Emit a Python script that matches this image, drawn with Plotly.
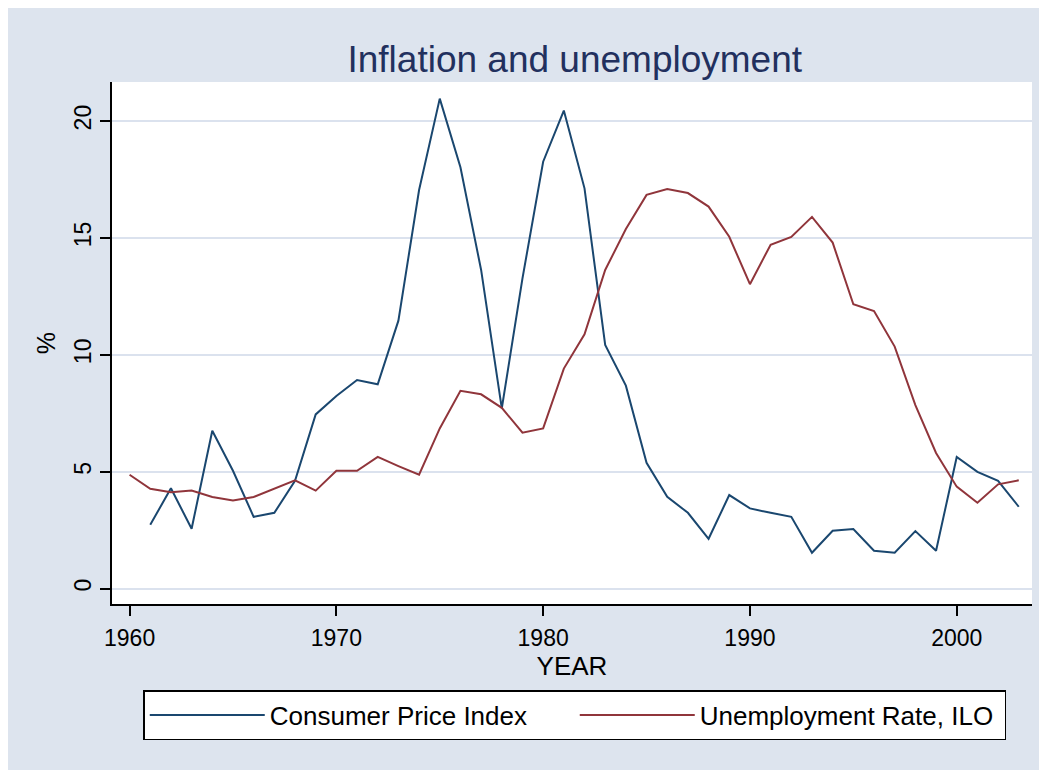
import plotly.graph_objects as go

years_cpi = list(range(1961, 2004))
cpi = [2.73, 4.29, 2.56, 6.75, 5.04, 3.07, 3.24, 4.61, 7.45, 8.24,
       8.92, 8.74, 11.46, 17.05, 20.96, 18.02, 13.63, 7.71, 13.27, 18.26,
       20.45, 17.12, 10.42, 8.68, 5.38, 3.93, 3.24, 2.13, 4.00, 3.43,
       3.24, 3.07, 1.53, 2.47, 2.55, 1.62, 1.53, 2.46, 1.62, 5.63,
       4.99, 4.61, 3.50]

years_unemp = list(range(1960, 2004))
unemp = [4.87, 4.27, 4.12, 4.19, 3.92, 3.77, 3.92, 4.29, 4.63, 4.19,
         5.04, 5.04, 5.63, 5.24, 4.87, 6.85, 8.46, 8.31, 7.73, 6.67,
         6.85, 9.41, 10.88, 13.63, 15.38, 16.84, 17.09, 16.92, 16.34, 15.05,
         13.02, 14.71, 15.04, 15.90, 14.80, 12.16, 11.87, 10.35, 7.85, 5.80,
         4.36, 3.67, 4.46, 4.63]

x_ticks = [1960, 1970, 1980, 1990, 2000]
y_ticks = [0, 5, 10, 15, 20]

NAVY = "#1a476f"
MAROON = "#90353b"
BG = "#dde4ee"
GRID = "#dbe2ee"
FONT = "Liberation Sans, Arial, sans-serif"

fig = go.Figure()
fig.add_trace(go.Scatter(x=years_cpi, y=cpi, mode="lines", name="Consumer Price Index",
                         line=dict(color=NAVY, width=2)))
fig.add_trace(go.Scatter(x=years_unemp, y=unemp, mode="lines", name="Unemployment Rate, ILO",
                         line=dict(color=MAROON, width=2)))

# page body has an 8px margin, so the figure is sized/offset to compensate
fig.update_layout(
    width=1039, height=762,
    margin=dict(l=104, r=15, t=74, b=166),
    paper_bgcolor=BG, plot_bgcolor="white",
    font=dict(family=FONT, color="black"),
    title=dict(text="Inflation and unemployment", x=0.5455, xanchor="center",
               y=0.933, yanchor="middle",
               font=dict(size=37, color="#22305e", family=FONT)),
    xaxis=dict(range=[1959.15, 2003.64], tickvals=x_ticks, showgrid=False, zeroline=False,
               showline=True, linecolor="black", linewidth=1.5,
               ticks="outside", ticklen=10, tickcolor="black", tickwidth=1.5,
               tickfont=dict(size=23), ticklabelstandoff=3,
               title=dict(text="YEAR", font=dict(size=26), standoff=0)),
    yaxis=dict(range=[-0.66, 21.67], tickvals=y_ticks, showgrid=True, gridcolor=GRID,
               gridwidth=2, zeroline=False,
               showline=True, linecolor="black", linewidth=1.5,
               ticks="outside", ticklen=10, tickcolor="black", tickwidth=1.5,
               tickangle=-90, tickfont=dict(size=23),
               title=dict(text="%", font=dict(size=25), standoff=7)),
    legend=dict(orientation="h", x=0.503, xanchor="center", y=-0.165, yanchor="top",
                bgcolor="white", bordercolor="black", borderwidth=1.5,
                font=dict(size=26), entrywidth=300, itemwidth=115,
                traceorder="normal"),
)

fig.write_html("out.html")
